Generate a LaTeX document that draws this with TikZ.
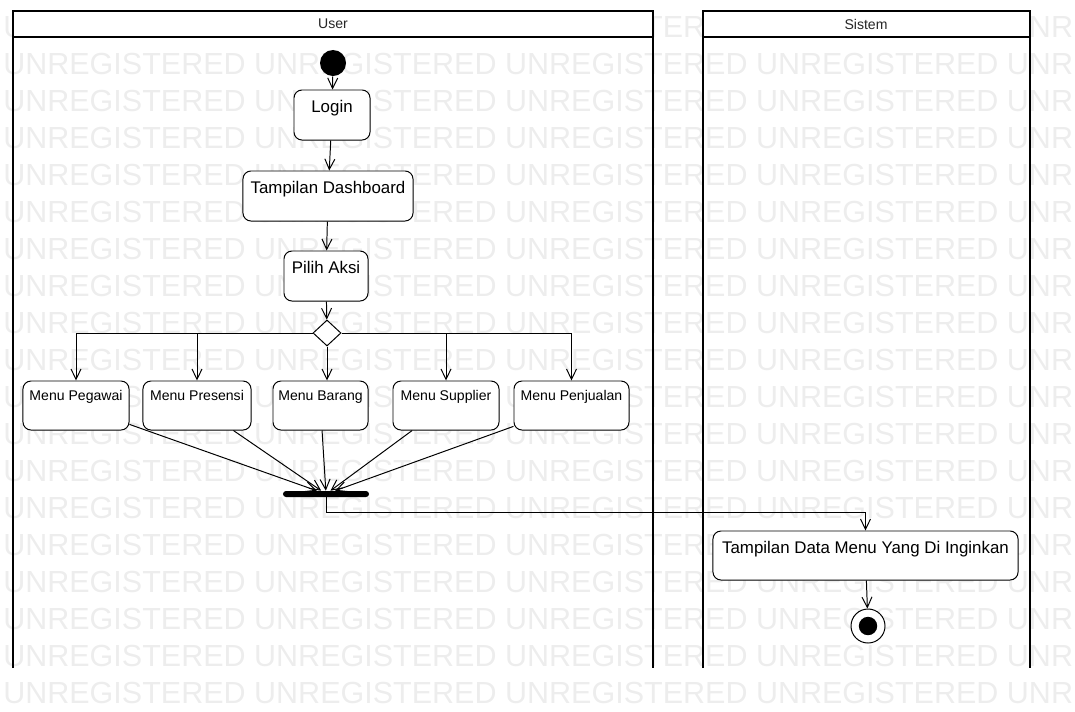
\documentclass[tikz,border=0pt]{standalone}
\usepackage{fontspec}
\setmainfont{Liberation Sans}
\usetikzlibrary{positioning, arrows.meta, shapes.geometric}

\begin{document}
\begin{tikzpicture}[x=0.025cm, y=-0.025cm,
    wmark/.style={anchor=west, inner sep=0pt, text=black!7, font=\fontsize{21.7}{22}\selectfont},
    lane/.style={draw=black, line width=1.2pt},
    act/.style={draw=black, fill=white, rounded corners=2mm, line width=0.7pt, inner xsep=0pt, inner ysep=1mm,
        font=\fontsize{12}{14}\selectfont, text height=4.5mm, text depth=6mm},
    menu/.style={act, font=\fontsize{10}{12}\selectfont, text height=3.75mm, text depth=6.5mm},
    flow/.style={line width=0.7pt, -{Straight Barb[length=2.6mm, width=2.5mm]}}]
    \useasboundingbox (0,0) rectangle (1075,711);

    % watermark rows
    \begin{scope}
        \clip (0,0) rectangle (1075,711);
        \node[wmark] (wm1) at (3,27) {UNREGISTERED UNREGISTERED UNREGISTERED UNREGISTERED UNREGISTERED};
        \node[wmark] (wm2) at (3,64) {UNREGISTERED UNREGISTERED UNREGISTERED UNREGISTERED UNREGISTERED};
        \node[wmark] (wm3) at (3,101) {UNREGISTERED UNREGISTERED UNREGISTERED UNREGISTERED UNREGISTERED};
        \node[wmark] (wm4) at (3,138) {UNREGISTERED UNREGISTERED UNREGISTERED UNREGISTERED UNREGISTERED};
        \node[wmark] (wm5) at (3,175) {UNREGISTERED UNREGISTERED UNREGISTERED UNREGISTERED UNREGISTERED};
        \node[wmark] (wm6) at (3,212) {UNREGISTERED UNREGISTERED UNREGISTERED UNREGISTERED UNREGISTERED};
        \node[wmark] (wm7) at (3,249) {UNREGISTERED UNREGISTERED UNREGISTERED UNREGISTERED UNREGISTERED};
        \node[wmark] (wm8) at (3,286) {UNREGISTERED UNREGISTERED UNREGISTERED UNREGISTERED UNREGISTERED};
        \node[wmark] (wm9) at (3,323) {UNREGISTERED UNREGISTERED UNREGISTERED UNREGISTERED UNREGISTERED};
        \node[wmark] (wm10) at (3,360) {UNREGISTERED UNREGISTERED UNREGISTERED UNREGISTERED UNREGISTERED};
        \node[wmark] (wm11) at (3,397) {UNREGISTERED UNREGISTERED UNREGISTERED UNREGISTERED UNREGISTERED};
        \node[wmark] (wm12) at (3,434) {UNREGISTERED UNREGISTERED UNREGISTERED UNREGISTERED UNREGISTERED};
        \node[wmark] (wm13) at (3,471) {UNREGISTERED UNREGISTERED UNREGISTERED UNREGISTERED UNREGISTERED};
        \node[wmark] (wm14) at (3,508) {UNREGISTERED UNREGISTERED UNREGISTERED UNREGISTERED UNREGISTERED};
        \node[wmark] (wm15) at (3,545) {UNREGISTERED UNREGISTERED UNREGISTERED UNREGISTERED UNREGISTERED};
        \node[wmark] (wm16) at (3,582) {UNREGISTERED UNREGISTERED UNREGISTERED UNREGISTERED UNREGISTERED};
        \node[wmark] (wm17) at (3,619) {UNREGISTERED UNREGISTERED UNREGISTERED UNREGISTERED UNREGISTERED};
        \node[wmark] (wm18) at (3,656) {UNREGISTERED UNREGISTERED UNREGISTERED UNREGISTERED UNREGISTERED};
        \node[wmark] (wm19) at (3,693) {UNREGISTERED UNREGISTERED UNREGISTERED UNREGISTERED UNREGISTERED};
    \end{scope}

    % swimlanes
    \fill[white] (13,11) rectangle (653,37);
    \fill[white] (703,11) rectangle (1030,37);
    \draw[lane] (13,668) -- (13,11) -- (653,11) -- (653,668);
    \draw[lane] (13,37) -- (653,37);
    \draw[lane] (703,668) -- (703,11) -- (1030,11) -- (1030,668);
    \draw[lane] (703,37) -- (1030,37);
    \node[text=black!85, font=\fontsize{10}{12}\selectfont] (user) at (333,24) {User};
    \node[text=black!85, font=\fontsize{10}{12}\selectfont] (sistem) at (866,24) {Sistem};

    % activities
    \node[circle, fill=black, minimum size=6.5mm, inner sep=0pt] (start) at (333,63) {};
    \node[act, minimum width=19mm] (login) at (332,115) {Login};
    \node[act, minimum width=42.5mm] (dash) at (328,196) {Tampilan Dashboard};
    \node[act, minimum width=21mm] (pilih) at (326,276) {Pilih Aksi};
    \node[diamond, draw=black, fill=white, line width=0.7pt, minimum width=7mm, minimum height=6.5mm, inner sep=0pt] (dec) at (327,333) {};
    \node[menu, minimum width=26.5mm] (pegawai) at (76,405.5) {Menu Pegawai};
    \node[menu, minimum width=27mm] (presensi) at (197,405.5) {Menu Presensi};
    \node[menu, minimum width=23.75mm] (barang) at (320.5,405.5) {Menu Barang};
    \node[menu, minimum width=26.5mm] (supplier) at (446,405.5) {Menu Supplier};
    \node[menu, minimum width=28.75mm] (penjualan) at (571.5,405.5) {Menu Penjualan};
    \node[rectangle, fill=black, rounded corners=0.75mm, minimum width=21.5mm, minimum height=1.5mm, inner sep=0pt] (bar) at (326,494) {};
    \node[act, minimum width=76.25mm, text depth=5.75mm] (tampil) at (865.5,555.5) {Tampilan Data Menu Yang Di Inginkan};
    \node[circle, draw=black, line width=0.7pt, fill=white, minimum size=8.5mm, inner sep=0pt,
        path picture={\fill[black] (path picture bounding box.center) circle (2.3mm);}] (end) at (868,626) {};

    \draw[flow] (start) -- (login);
    \draw[flow] (login) -- (dash);
    \draw[flow] (dash) -- (pilih);
    \draw[flow] (pilih) -- (dec);
    \draw[flow] (dec.west) -| (pegawai.north);
    \draw[flow] (dec.west) -| (presensi.north);
    \draw[flow] (dec.south) -- (dec.south |- barang.north);
    \draw[flow] (dec.east) -| (supplier.north);
    \draw[flow] (dec.east) -| (penjualan.north);
    \draw[flow] (pegawai) -- (bar);
    \draw[flow] (presensi) -- (bar);
    \draw[flow] (barang) -- (bar);
    \draw[flow] (supplier) -- (bar);
    \draw[flow] (penjualan) -- (bar);
    \draw[flow] (bar.south) -- ++(0,15) -| (tampil.north);
    \draw[flow] (tampil) -- (end);
\end{tikzpicture}
\end{document}
